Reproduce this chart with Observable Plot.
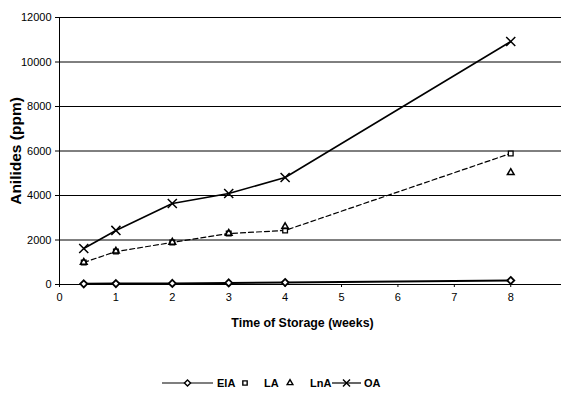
<!DOCTYPE html>
<html>
<head>
<meta charset="utf-8">
<script src="https://cdn.jsdelivr.net/npm/d3@7"></script>
<script src="https://cdn.jsdelivr.net/npm/@observablehq/plot@0.6"></script>
<style>
body{margin:0;background:#fff;font-family:"Liberation Sans",Arial,sans-serif;}
#legend{position:relative;height:20px;margin-top:33px;font:bold 11px "Liberation Sans",Arial,sans-serif;color:#000}
#legend .it{position:absolute;top:0;height:20px;display:flex;align-items:center}
#legend svg{overflow:visible}
</style>
</head>
<body>
<div id="chart"></div>
<div id="legend"></div>
<script>
const weeks = [0.43, 1, 2, 3, 4, 8];
const ElA = [30, 40, 50, 70, 90, 180];
const LA = [990, 1480, 1890, 2290, 2430, 5890];
const LnA = [1000, 1500, 1900, 2300, 2600, 5030];
const OA = [1620, 2430, 3640, 4090, 4810, 10920];
const xTicks = [0, 1, 2, 3, 4, 5, 6, 7, 8];
const yTicks = [0, 2000, 4000, 6000, 8000, 10000, 12000];
const seriesNames = ["ElA", "LA", "LnA", "OA"];

const rows = (vals) => weeks.map((w, i) => ({w, v: vals[i]}));
const dEl = rows(ElA), dLA = rows(LA), dLn = rows(LnA), dOA = rows(OA);
const fmt = d => String(d);

const plot = Plot.plot({
  width: 561,
  height: 340,
  marginLeft: 59,
  marginRight: 0,
  marginTop: 17,
  marginBottom: 56,
  style: {fontFamily: '"Liberation Sans", Arial, sans-serif', fontSize: "11px", color: "#000", background: "#fff"},
  x: {type: "linear", domain: [0, 8.9], label: null},
  y: {type: "linear", domain: [0, 12000], label: null},
  marks: [
    Plot.gridY(yTicks.filter(d => d > 0), {stroke: "#000", strokeOpacity: 1, strokeWidth: 1}),
    Plot.ruleY([0], {stroke: "#000"}),
    Plot.ruleX([0], {stroke: "#000", y1: 0, y2: 12000}),
    Plot.axisY(yTicks, {tickSize: 4, tickPadding: 4, fontSize: 11, tickFormat: fmt}),
    Plot.axisX(xTicks, {tickSize: 3, tickPadding: 6, fontSize: 11, tickFormat: fmt}),
    Plot.text(["Anilides (ppm)"], {frameAnchor: "left", textAnchor: "middle", dx: -43, rotate: -90, fontWeight: "bold", fontSize: 15.5}),
    Plot.text(["Time of Storage (weeks)"], {frameAnchor: "bottom", dx: -8, dy: 42, fontWeight: "bold", fontSize: 12.4}),
    Plot.line(dEl, {x: "w", y: "v", stroke: "#000", strokeWidth: 2}),
    Plot.line(dLA, {x: "w", y: "v", stroke: "#000", strokeWidth: 1.2, strokeDasharray: "5,3"}),
    Plot.line(dOA, {x: "w", y: "v", stroke: "#000", strokeWidth: 1.6}),
    Plot.dot(dEl, {x: "w", y: "v", symbol: "diamond2", r: 3.2, stroke: "#000", strokeWidth: 1.8, fill: "#fff"}),
    Plot.dot(dLA, {x: "w", y: "v", symbol: "square2", r: 3, stroke: "#000", strokeWidth: 1.3, fill: "#fff"}),
    Plot.dot(dLn, {x: "w", y: "v", symbol: "triangle2", r: 3.2, stroke: "#000", strokeWidth: 1.5, fill: "none"}),
    Plot.dot(dOA, {x: "w", y: "v", symbol: "times", r: 4.2, stroke: "#000", strokeWidth: 1.5})
  ]
});
document.getElementById("chart").appendChild(plot);

// legend
const sym = {
  ElA: {left: 162, line: 51, path: d3.symbol(d3.symbolDiamond2, 24)()},
  LA: {left: 241, line: 0, path: d3.symbol(d3.symbolSquare2, 24)()},
  LnA: {left: 286, line: 0, path: d3.symbol(d3.symbolTriangle2, 24)()},
  OA: {left: 332, line: 29, path: d3.symbol(d3.symbolTimes, 34)()}
};
const gapText = {ElA: 4, LA: 15, LnA: 16, OA: 3};
const leg = document.getElementById("legend");
seriesNames.forEach(name => {
  const s = sym[name];
  const w = s.line || 8;
  const it = document.createElement("span");
  it.className = "it";
  it.style.left = s.left + "px";
  it.innerHTML = `<svg width="${w}" height="14" style="margin-right:${gapText[name]}px">${s.line ? `<line x1="0" x2="${w}" y1="7" y2="7" stroke="#000" stroke-width="1.2"/>` : ""}<path d="${s.path}" transform="translate(${w/2},7)" fill="#fff" stroke="#000" stroke-width="1.4"/></svg><span>${name}</span>`;
  leg.appendChild(it);
});
</script>
</body>
</html>
